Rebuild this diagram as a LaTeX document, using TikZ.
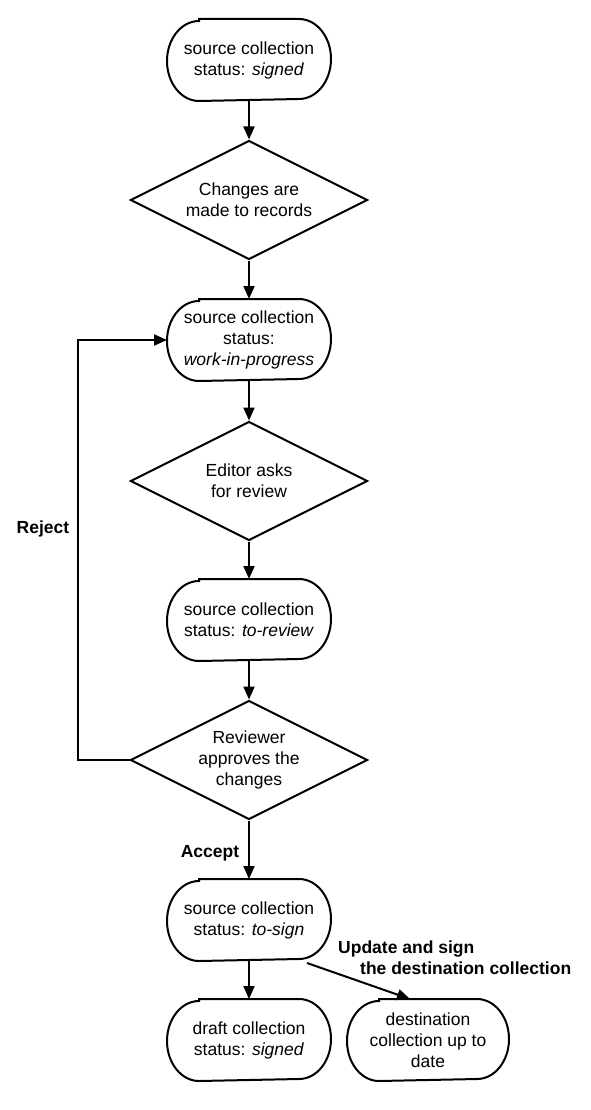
\documentclass[tikz,border=0pt]{standalone}
\usepackage{fontspec}
\setmainfont{Liberation Sans}
\usetikzlibrary{shapes.geometric,arrows.meta}
\begin{document}
\begin{tikzpicture}[x=1pt,y=-1pt,
  every node/.style={font=\fontsize{17.5}{21}\selectfont},
  state/.style={line width=2pt, minimum width=162pt, minimum height=80pt, align=center, inner sep=0pt},
  decision/.style={draw, diamond, aspect=2, line width=2pt, minimum width=237pt, minimum height=119pt, align=center, inner sep=0pt},
  flow/.style={line width=2pt, -{Triangle[length=13pt,width=11pt]}},
  outline/.style={line width=2pt},
  lbl/.style={font=\fontsize{17.5}{21}\selectfont\bfseries, inner sep=0pt}]
\useasboundingbox (0,0) rectangle (590,1110);
\node[state] (b1) at (249,60) {source collection\\status: \textit{signed}};
\node[decision] (d1) at (249,200) {Changes are\\made to records};
\node[state] (b2) at (249,340) {source collection\\status:\\\textit{work-in-progress}};
\node[decision] (d2) at (249,481) {Editor asks\\for review};
\node[state] (b3) at (249,620) {source collection\\status: \textit{to-review}};
\node[decision] (d3) at (249,760) {Reviewer\\approves the\\changes};
\node[state] (b4) at (249,920) {source collection\\status: \textit{to-sign}};
\node[state] (b5) at (249,1040) {draft collection\\status: \textit{signed}};
\node[state, minimum width=160pt] (b6) at (428,1040) {destination\\collection up to\\date};
\foreach \n in {b1,b2,b3,b4,b5,b6}
  \draw[outline] ([xshift=32pt]\n.north west) -- ([xshift=-32pt]\n.north east)
    arc[start angle=90, end angle=-90, x radius=32pt, y radius=40pt]
    -- ([xshift=32pt]\n.south west)
    arc[start angle=270, end angle=90, x radius=32pt, y radius=40pt] -- cycle;
\draw[flow] (b1) -- (d1);
\draw[flow] (d1) -- (b2);
\draw[flow] (b2) -- (d2);
\draw[flow] (d2) -- (b3);
\draw[flow] (b3) -- (d3);
\draw[flow] (d3) -- (b4);
\draw[flow] (b4) -- (b5);
\draw[flow] (d3.west) -- ++(-52,0) |- (b2.west);
\draw[flow] ([xshift=58pt,yshift=-2pt]b4.south) -- ([xshift=-18pt]b6.north);
\node[lbl] (rej) at (43,529) {Reject};
\node[lbl] (acc) at (210,853) {Accept};
\node[lbl, anchor=north west, align=left] (upd) at (338,941) {Update and sign\\\hspace*{22pt}the destination collection};
\end{tikzpicture}
\end{document}
